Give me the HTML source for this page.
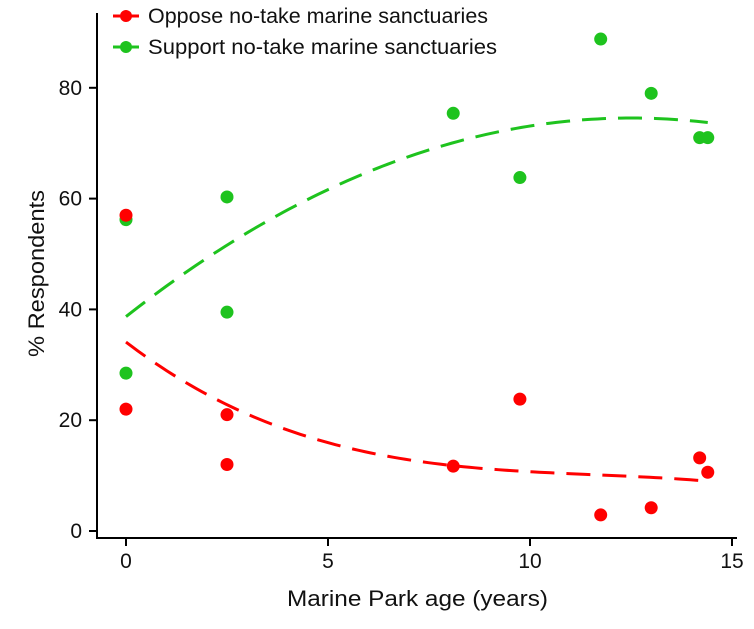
<!DOCTYPE html>
<html><head><meta charset="utf-8"><style>
html,body{margin:0;padding:0;background:#fff}
svg{display:block;font-family:"Liberation Sans",Arial,sans-serif}
</style></head><body>
<svg id="chart" width="754" height="629" viewBox="0 0 754 629">
<g id="axes"></g><g id="marks"></g>
<g>
<g>
<line x1="113" y1="16" x2="139" y2="16" stroke="#ff0000" stroke-width="3"/>
<circle cx="126" cy="16" r="6" fill="#ff0000"/>
<text x="148" y="23" font-size="21" fill="#111" textLength="340" lengthAdjust="spacingAndGlyphs">Oppose no-take marine sanctuaries</text></g>
<g>
<line x1="113" y1="47" x2="139" y2="47" stroke="#1ec31e" stroke-width="3"/>
<circle cx="126" cy="47" r="6" fill="#1ec31e"/>
<text x="148" y="54" font-size="21" fill="#111" textLength="349" lengthAdjust="spacingAndGlyphs">Support no-take marine sanctuaries</text></g>
</g>
<text x="287" y="606" font-size="22" fill="#111" textLength="261" lengthAdjust="spacingAndGlyphs">Marine Park age (years)</text>
<text transform="translate(44,357) rotate(-90)" font-size="22" fill="#111" textLength="167" lengthAdjust="spacingAndGlyphs">% Respondents</text>
</svg>
<script>
const opposeX=[0,0,2.5,2.5,8.1,9.75,11.75,13,14.2,14.4];
const opposeY=[57,22,21,12,11.7,23.8,2.9,4.2,13.2,10.6];
const supportX=[0,0,2.5,2.5,8.1,9.75,11.75,13,14.2,14.4];
const supportY=[56.2,28.5,60.3,39.5,75.4,63.8,88.8,79,71,71];
// fitted trend coefficients [c0, c1, c2, c3] as shown in the figure
const opposeFit=[34.1,-5.573,0.4536,-0.01303];
const supportFit=[38.7,5.73,-0.229,0];
const xTicks=[0,5,10,15];
const yTicks=[0,20,40,60,80];
const NS='http://www.w3.org/2000/svg';
const xs=v=>126+v*40.4;
const ys=v=>531-v*5.54;
const axes=document.getElementById('axes'),marks=document.getElementById('marks');
function mk(tag,attrs,parent){const e=document.createElementNS(NS,tag);for(const k in attrs)e.setAttribute(k,attrs[k]);parent.appendChild(e);return e;}
let a=mk('path',{d:'M97,13 V538 H737',fill:'none',stroke:'#000','stroke-width':2},axes);


xTicks.forEach(t=>{
 const l=mk('line',{x1:xs(t),x2:xs(t),y1:538,y2:546,stroke:'#000','stroke-width':2},axes);
 
 
 const tx=mk('text',{x:xs(t),y:568,'font-size':21,'text-anchor':'middle',fill:'#111'},axes);tx.textContent=t;
 
 
});
yTicks.forEach(t=>{
 const l=mk('line',{x1:89,x2:97,y1:ys(t),y2:ys(t),stroke:'#000','stroke-width':2},axes);
 
 
 const tx=mk('text',{x:82,y:ys(t)+7,'font-size':21,'text-anchor':'end',fill:'#111'},axes);tx.textContent=t;
 
 
});
function series(X,Y,c,color,name){
 const x0=Math.min(...X),x1=Math.max(...X);
 let d='';for(let i=0;i<=100;i++){const x=x0+(x1-x0)*i/100;d+=(i?'L':'M')+xs(x).toFixed(2)+','+ys(c[0]+c[1]*x+c[2]*x*x+c[3]*x*x*x).toFixed(2);}
 const p=mk('path',{d:d,fill:'none',stroke:color,'stroke-width':3,'stroke-dasharray':'24 12'},marks);
 
 
 X.forEach((x,i)=>{
  const e=mk('circle',{cx:xs(x),cy:ys(Y[i]),r:6.5,fill:color},marks);
  
  
 });
}
series(supportX,supportY,supportFit,'#1ec31e','support');
series(opposeX,opposeY,opposeFit,'#ff0000','oppose');
</script>
</body></html>
